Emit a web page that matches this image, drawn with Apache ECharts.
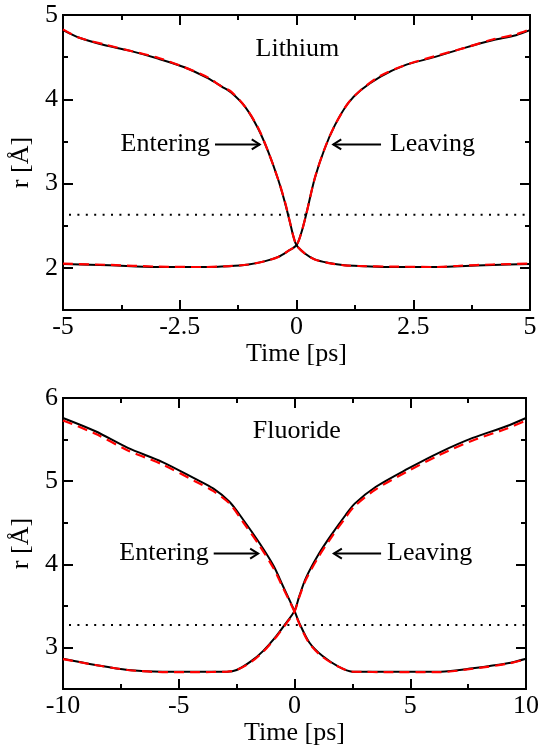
<!DOCTYPE html>
<html><head><meta charset="utf-8">
<script src="https://cdn.jsdelivr.net/npm/echarts@6/dist/echarts.min.js"></script>
<style>html,body{margin:0;padding:0;background:#fff}#c{width:542px;height:747px}</style>
</head><body><div id="c"></div>
<script>
// ---------- data ----------
// Lithium
const liEnterTime  = [-5, -4.65, -4.1, -3.6, -2.95, -2.4, -1.9, -1.6, -1.4, -1.1, -0.82, -0.6, -0.4, -0.25, -0.14, -0.07, 0, 0.18, 0.39, 0.67, 1.03, 1.45, 2.0, 3.0, 3.5, 4.2, 5];
const liEnterBlack = [4.82, 4.73, 4.64, 4.58, 4.48, 4.38, 4.25, 4.15, 4.08, 3.91, 3.65, 3.37, 3.06, 2.78, 2.54, 2.38, 2.27, 2.17, 2.10, 2.06, 2.03, 2.02, 2.01, 2.01, 2.02, 2.035, 2.045];
const liEnterRed   = [4.83, 4.73, 4.65, 4.58, 4.49, 4.38, 4.26, 4.15, 4.09, 3.91, 3.66, 3.37, 3.06, 2.79, 2.54, 2.38, 2.27, 2.17, 2.10, 2.06, 2.03, 2.02, 2.015, 2.01, 2.025, 2.04, 2.05];
const liLeaveTime  = [-5, -4, -3, -2, -1.45, -1.03, -0.67, -0.39, -0.18, 0, 0.1, 0.21, 0.39, 0.6, 0.82, 1.1, 1.38, 1.8, 2.3, 2.95, 3.6, 4.2, 4.7, 5];
const liLeaveBlack = [2.045, 2.03, 2.01, 2.01, 2.02, 2.04, 2.08, 2.13, 2.20, 2.27, 2.41, 2.64, 3.06, 3.41, 3.69, 3.95, 4.11, 4.27, 4.40, 4.50, 4.61, 4.70, 4.76, 4.82];
const liLeaveRed   = [2.05, 2.035, 2.015, 2.01, 2.02, 2.04, 2.08, 2.13, 2.20, 2.27, 2.41, 2.64, 3.06, 3.41, 3.69, 3.95, 4.11, 4.28, 4.40, 4.51, 4.61, 4.71, 4.77, 4.83];
const liThreshold  = 2.63;
// Fluoride
const fEnterTime   = [-10, -8.6, -7.2, -5.7, -4.3, -3.5, -2.8, -2.2, -1.5, -0.9, -0.5, -0.2, 0, 0.2, 0.64, 1.2, 1.9, 2.5, 4.2, 6.3, 7.7, 9.2, 10];
const fEnterBlack  = [5.76, 5.60, 5.40, 5.23, 5.03, 4.91, 4.75, 4.53, 4.25, 3.98, 3.74, 3.56, 3.44, 3.30, 3.06, 2.90, 2.77, 2.71, 2.71, 2.71, 2.75, 2.81, 2.865];
const fEnterRed    = [5.73, 5.57, 5.37, 5.20, 5.00, 4.88, 4.73, 4.50, 4.22, 3.95, 3.72, 3.55, 3.43, 3.29, 3.05, 2.89, 2.77, 2.71, 2.705, 2.705, 2.745, 2.805, 2.86];
const fLeaveTime   = [-10, -8.6, -7.2, -5.7, -4.3, -2.9, -2.5, -1.9, -1.35, -0.78, -0.35, 0, 0.21, 0.5, 1.06, 1.63, 2.2, 2.6, 3.5, 4.9, 6.3, 7.7, 9.15, 10];
const fLeaveBlack  = [2.865, 2.79, 2.73, 2.71, 2.71, 2.71, 2.73, 2.83, 2.96, 3.14, 3.30, 3.44, 3.62, 3.84, 4.13, 4.37, 4.59, 4.73, 4.93, 5.15, 5.35, 5.52, 5.66, 5.76];
const fLeaveRed    = [2.86, 2.79, 2.73, 2.705, 2.705, 2.71, 2.73, 2.82, 2.95, 3.13, 3.29, 3.43, 3.61, 3.82, 4.10, 4.34, 4.56, 4.70, 4.90, 5.12, 5.32, 5.49, 5.63, 5.73];
const fThreshold   = 3.27;
// axes / ticks
const liXRange = [-5, 5], liXStep = 2.5;
const fXRange  = [-10, 10], fXStep = 5;
const liYRange = [1.5, 5], liYMajor = [2, 3, 4, 5], liYMinor = [2.5, 3.5, 4.5];
const fYRange  = [2.5, 6], fYMajor = [3, 4, 5, 6], fYMinor = [3.5, 4.5, 5.5];
const xName = 'Time [ps]', yName = 'r [Å]';
const panelNames = ['Lithium', 'Fluoride'];
const arrowLabels = ['Entering', 'Leaving'];

// ---------- build ----------
const FONT = '"Liberation Serif", "Times New Roman", serif';
const FS = 26;
const zip = (t, v) => t.map((x, i) => [x, v[i]]);
const axisLine = { show: true, onZero: false, lineStyle: { color: '#000', width: 2 } };

function xAxes(grid, range, step) {
  const base = {
    type: 'value', gridIndex: grid, min: range[0], max: range[1], interval: step,
    axisLine, splitLine: { show: false },
    axisTick: { show: true, inside: true, length: 10, lineStyle: { color: '#000', width: 2 } },
    minorTick: { show: true, splitNumber: 2, length: 5, lineStyle: { color: '#000', width: 2 } }
  };
  return [
    Object.assign({}, base, { position: 'bottom', name: xName, nameLocation: 'middle', nameGap: 28,
      nameTextStyle: { fontFamily: FONT, fontSize: FS, color: '#000' },
      axisLabel: { show: true, margin: 4, fontFamily: FONT, fontSize: FS, color: '#000' } }),
    Object.assign({}, base, { position: 'top', axisLabel: { show: false } })
  ];
}
function yAxes(grid, range, major, minor) {
  const mk = (pos, vals, len, lab) => ({
    type: 'value', gridIndex: grid, min: range[0], max: range[1], position: pos,
    axisLine, splitLine: { show: false },
    axisTick: { show: true, inside: true, length: len, customValues: vals, lineStyle: { color: '#000', width: 2 } },
    axisLabel: lab ? { show: true, customValues: major, margin: 5, fontFamily: FONT, fontSize: FS, color: '#000' } : { show: false },
    name: lab ? yName : '', nameLocation: 'middle', nameGap: 29, nameRotate: 90,
    nameTextStyle: { fontFamily: FONT, fontSize: FS, color: '#000' }
  });
  return [mk('left', major, 10, true), mk('left', minor, 5, false), mk('right', major, 10, false), mk('right', minor, 5, false)];
}
function lines(xi, yi, t1, b1, r1, t2, b2, r2, thr, range) {
  const blk = { color: '#000', width: 2 };
  const red = { color: '#ff0000', width: 2.2, type: [10, 6] };
  const s = (data, ls) => ({ type: 'line', xAxisIndex: xi, yAxisIndex: yi, data, showSymbol: false, smooth: 0.3,
    lineStyle: ls, animation: false, silent: true });
  return [
    { type: 'line', xAxisIndex: xi, yAxisIndex: yi, data: [[range[0], thr], [range[1], thr]], showSymbol: false,
      lineStyle: { color: '#000', width: 2, type: [2, 6.4], dashOffset: -6 }, animation: false, silent: true },
    s(zip(t1, b1), blk), s(zip(t2, b2), blk), s(zip(t1, r1), red), s(zip(t2, r2), red)
  ];
}

const chart = echarts.init(document.getElementById('c'), null, { renderer: 'canvas' });
chart.setOption({
  animation: false,
  backgroundColor: '#fff',
  grid: [
    { left: 60, top: 15, width: 470, height: 295 },
    { left: 60, top: 398, width: 470, height: 294 }
  ],
  xAxis: [...xAxes(0, liXRange, liXStep), ...xAxes(1, fXRange, fXStep)],
  yAxis: [...yAxes(0, liYRange, liYMajor, liYMinor), ...yAxes(1, fYRange, fYMajor, fYMinor)],
  series: [
    ...lines(0, 0, liEnterTime, liEnterBlack, liEnterRed, liLeaveTime, liLeaveBlack, liLeaveRed, liThreshold, liXRange),
    ...lines(2, 4, fEnterTime, fEnterBlack, fEnterRed, fLeaveTime, fLeaveBlack, fLeaveRed, fThreshold, fXRange)
  ]
});

// annotations placed in data coordinates of each panel
const annot = [
  { grid: 0, title: [0.02, 4.6], enterText: [-1.85, 3.464], enterArrow: [[-1.745, 3.464], [-0.787, 3.464]],
    leaveText: [2.0, 3.464], leaveArrow: [[1.81, 3.464], [0.787, 3.464]] },
  { grid: 1, title: [0.1, 5.6], enterText: [-3.70, 4.13], enterArrow: [[-3.49, 4.13], [-1.57, 4.13]],
    leaveText: [4.0, 4.13], leaveArrow: [[3.74, 4.13], [1.70, 4.13]] }
];
const g = [];
const px = (gi, p) => chart.convertToPixel({ gridIndex: gi }, p);
const txt = (p, text, align) => ({ type: 'text', x: p[0], y: p[1], silent: true,
  style: { text, fill: '#000', font: FS + 'px ' + FONT, align, verticalAlign: 'middle' } });
function arrow(a, b) {
  const dir = b[0] > a[0] ? 1 : -1;
  return [
    { type: 'line', silent: true, shape: { x1: a[0], y1: a[1], x2: b[0], y2: b[1] }, style: { stroke: '#000', lineWidth: 2 } },
    { type: 'polyline', silent: true, shape: { points: [[b[0] - dir * 8, b[1] - 5], [b[0], b[1]], [b[0] - dir * 8, b[1] + 5]] },
      style: { stroke: '#000', lineWidth: 2, fill: null } }
  ];
}
annot.forEach((a, i) => {
  g.push(txt(px(a.grid, a.title), panelNames[i], 'center'));
  g.push(txt(px(a.grid, a.enterText), arrowLabels[0], 'right'));
  g.push(txt(px(a.grid, a.leaveText), arrowLabels[1], 'left'));
  g.push(...arrow(px(a.grid, a.enterArrow[0]), px(a.grid, a.enterArrow[1])));
  g.push(...arrow(px(a.grid, a.leaveArrow[0]), px(a.grid, a.leaveArrow[1])));
});
chart.setOption({ graphic: g });
</script></body></html>
